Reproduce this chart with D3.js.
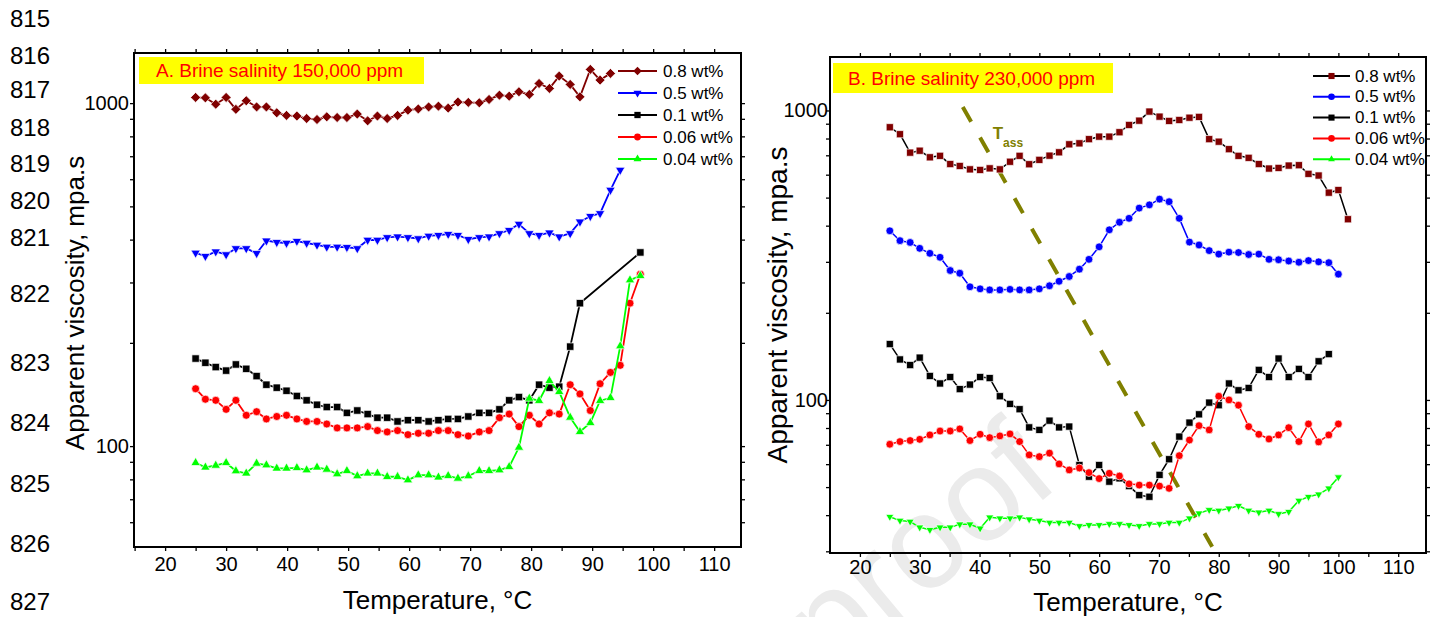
<!DOCTYPE html>
<html>
<head>
<meta charset="utf-8">
<script src="https://cdn.jsdelivr.net/npm/d3@7"></script>
<style>
  body { margin: 0; background: #fff; }
  svg { display: block; }
  text { font-family: "Liberation Sans", Arial, sans-serif; }
</style>
</head>
<body>
<svg id="chart" width="1439" height="617"></svg>
<script>
// ---------------- DATA ----------------
const lineNumbers = ["815","816","817","818","819","820","821","822","823","824","825","826","827"];

const seriesLabels = ["0.8 wt%", "0.5 wt%", "0.1 wt%", "0.06 wt%", "0.04 wt%"];
const titleA = "A. Brine salinity 150,000 ppm";
const titleB = "B. Brine salinity 230,000 ppm";
const xTitle = "Temperature, \u00B0C";
const yTitle = "Apparent viscosity, mpa.s";
const xTickValues = [20, 30, 40, 50, 60, 70, 80, 90, 100, 110];
const xMinorTicks = [15, 25, 35, 45, 55, 65, 75, 85, 95, 105, 115];
const yTickValues = [100, 1000];
const yMinorTicks = [30, 40, 50, 60, 70, 80, 90, 200, 300, 400, 500, 600, 700, 800, 900];

// Panel A: 150,000 ppm
const tempsA = [25.0, 26.6, 28.3, 30.0, 31.6, 33.3, 35.0, 36.6, 38.3, 39.9,
                41.6, 43.2, 44.9, 46.5, 48.2, 49.8, 51.5, 53.2, 54.8, 56.4,
                58.1, 59.8, 61.5, 63.2, 64.8, 66.4, 68.0, 69.7, 71.5, 73.1,
                74.8, 76.4, 78.0, 79.7, 81.3, 83.0, 84.6, 86.4, 88.0, 89.7,
                91.3, 93.0, 94.6, 96.2, 97.9];
const viscA08 = [1039, 1036, 993, 1039, 959, 1016, 975, 975, 937, 921,
                 917, 902, 896, 912, 908, 908, 929, 888, 917, 902,
                 921, 954, 962, 975, 980, 967, 1007, 1005, 1002, 1025,
                 1055, 1048, 1079, 1060, 1141, 1104, 1199, 1134, 1043, 1254,
                 1167, 1221];
const viscA05 = [366, 358, 369, 362, 377, 377, 365, 397, 393, 391,
                 396, 391, 386, 381, 381, 380, 377, 399, 399, 406,
                 408, 406, 403, 410, 412, 415, 412, 401, 406, 408,
                 417, 426, 444, 417, 412, 419, 408, 417, 451, 468,
                 477, 558, 638];
const viscA01 = [180, 175, 170, 166, 173, 168, 160, 151, 148, 145,
                 140, 136, 132, 130, 130, 125, 127, 124, 121, 121,
                 118, 119, 119, 118, 119, 120, 120, 122, 125, 125,
                 128, 136, 139, 136, 151, 148, 149, 195, 261, null,
                 null, null, null, null, 367];
const viscA006 = [147, 137, 136, 128, 136, 123, 126, 120, 122, 123,
                  120, 118, 118, 116, 113, 113, 113, 114, 111, 110,
                  111, 108, 109, 109, 111, 111, 108, 107, 110, 111,
                  121, 124, 114, 123, 116, 125, 124, 151, 142, 127,
                  152, 164, 172, 261, 317];
const viscA004 = [89.4, 86.7, 87.8, 89.4, 84.6, 83.3, 89.0, 88.0, 86.1, 86.1,
                  86.4, 85.1, 86.7, 85.5, 82.9, 84.7, 81.8, 83.3, 83.3, 81.4,
                  81.4, 79.6, 82.3, 82.3, 81.1, 81.9, 80.5, 81.8, 84.7, 84.7,
                  85.1, 87.0, 99.1, 137.7, 135.6, 155.0, 144.0, 121.2, 110.1, 116.9,
                  135.6, 138.3, 195.7, 304.8, 313.7];

// Panel B: 230,000 ppm
const tempsB = [25.0, 26.7, 28.4, 30.0, 31.7, 33.4, 35.1, 36.7, 38.4, 40.1,
                41.7, 43.4, 45.1, 46.7, 48.3, 50.0, 51.7, 53.3, 55.0, 56.7,
                58.3, 60.0, 61.7, 63.4, 65.0, 66.7, 68.4, 70.1, 71.7, 73.4,
                75.1, 76.7, 78.4, 80.0, 81.7, 83.3, 85.0, 86.7, 88.4, 90.0,
                91.7, 93.4, 95.0, 96.7, 98.4, 100.0, 101.6];
const viscB08 = [875, 828, 715, 726, 689, 697, 653, 643, 626, 623,
                 631, 626, 665, 697, 652, 675, 698, 717, 764, 770,
                 796, 812, 812, 841, 891, 922, 991, 952, 920, 927,
                 944, 950, 796, 780, 735, 697, 686, 653, 630, 633,
                 645, 647, 604, 596, 520, 531, 421];
const viscB05 = [384, 355, 350, 334, 321, 311, 280, 274, 246, 242,
                 240, 240, 241, 240, 240, 242, 248, 257, 267, 283,
                 306, 338, 387, 411, 424, 460, 472, 494, 484, 424,
                 351, 343, 328, 319, 324, 323, 318, 319, 306, 305,
                 302, 299, 303, 300, 298, 272];
const viscB01 = [156, 138, 132, 140, 121, 114, 120, 109, 113, 120,
                 119, 103, 96.9, 92.9, 80.4, 78.8, 84.8, 80.4, 80.9, 59.6,
                 54.3, 59.6, 52.2, 53.6, 50.4, 46.9, 46.3, 55.1, 62.4, 74.7,
                 83.5, 89.2, 97.9, 95.9, 114, 108, 110, 127, 120, 139,
                 120, 128, 120, 136, 144];
const viscB006 = [70.3, 71.8, 72.4, 73.1, 75.7, 78.1, 78.1, 79.4, 72.4, 76.1,
                  74.1, 75.1, 76.3, 71.8, 64.6, 63.7, 65.5, 60.1, 57.3, 58.2,
                  56.1, 53.5, 55.8, 54.6, 51.3, 50.8, 50.8, 50.4, 49.5, 64.2,
                  72.7, 81.5, 78.8, 103, 100, 95.9, 80.9, 76.1, 73.3, 75.7,
                  80.2, 71.8, 82.6, 71.6, 75.7, 82.6];
const viscB004 = [39.5, 38.3, 38.0, 36.3, 35.6, 36.3, 36.3, 37.2, 37.2, 36.0,
                  39.3, 39.0, 39.0, 39.3, 38.7, 38.3, 37.7, 37.7, 37.7, 36.7,
                  37.0, 37.0, 37.3, 37.3, 37.0, 36.7, 37.3, 37.3, 37.7, 37.7,
                  39.0, 40.6, 41.7, 41.5, 42.2, 43.1, 41.5, 40.9, 41.5, 40.4,
                  41.1, 44.9, 46.3, 47.2, 49.5, 54.1];

// T_ass guide line (temperature, viscosity) end points and label anchor
const tassLine = [[37.2, 1028], [78.9, 31.1]];
const tassLabel = {t: 42.2, v: 800, main: "T", sub: "ass"};
const watermark = "Journal Pre-proof";

// ---------------- LAYOUT / STYLE ----------------
const svg = d3.select("#chart");
const FONT = '"Liberation Sans", Arial, sans-serif';

// watermark behind everything (partly off the page, as in the reference)
svg.append("text")
  .attr("transform", "translate(1062,484) rotate(-40)")
  .attr("text-anchor", "end")
  .attr("font-size", 132)
  .attr("fill", "#ebebeb")
  .text(watermark);

// manuscript line numbers
const lineNumberY = [18, 55, 89, 127, 163, 200, 237, 293, 362, 422, 483, 543, 601];
svg.append("g").selectAll("text").data(lineNumbers).join("text")
  .attr("x", 10).attr("y", (d, i) => lineNumberY[i])
  .attr("dominant-baseline", "central")
  .attr("font-family", '"Open Sans", sans-serif')
  .attr("font-size", 24).attr("fill", "#000")
  .text(d => d);

function markerPath(type, s) {
  switch (type) {
    case "square": return `M${-s},${-s}H${s}V${s}H${-s}Z`;
    case "diamond": return `M0,${-s}L${s},0L0,${s}L${-s},0Z`;
    case "circle": return `M${s},0A${s},${s} 0 1,1 ${-s},0A${s},${s} 0 1,1 ${s},0Z`;
    case "triUp": return `M0,${-s * 1.155}L${s},${s * 0.577}L${-s},${s * 0.577}Z`;
    case "triDown": return `M0,${s * 1.155}L${s},${-s * 0.577}L${-s},${-s * 0.577}Z`;
  }
}

const panels = [
  {
    frame: {x0: 134, y0: 53, x1: 741, y1: 547},
    xDomain: [14.9, 114.4], yDomain: [50.8, 1400],
    temps: tempsA,
    series: [
      {vals: viscA08, line: "#800000", fill: "#800000", marker: "diamond", ms: 5.0, legMarker: "diamond"},
      {vals: viscA05, line: "#0000ff", fill: "#0000ff", marker: "triDown", ms: 4.7, legMarker: "triDown"},
      {vals: viscA01, line: "#000000", fill: "#000000", marker: "square", ms: 3.7, legMarker: "square"},
      {vals: viscA006, line: "#ff0000", fill: "#ff0000", marker: "circle", ms: 4.0, legMarker: "circle"},
      {vals: viscA004, line: "#00ff00", fill: "#00ff00", marker: "triUp", ms: 4.7, legMarker: "triUp"}
    ],
    lineWidth: 1.8,
    title: titleA, titleBox: {x: 139, y: 57, w: 285, h: 27}, titleX: 156, titleSize: 19,
    legend: {x1: 618, x2: 657, tx: 663, y0: 71, dy: 22, size: 17},
    tickFont: 20, xLabelPad: 6, yLabelPad: 1,
    xTitle: {x: 437.5, y: 609, size: 26},
    yTitle: {x: 84, y: 303, size: 26}
  },
  {
    frame: {x0: 830, y0: 57, x1: 1426, y1: 553},
    xDomain: [15, 114.65], yDomain: [29.6, 1530],
    temps: tempsB,
    series: [
      {vals: viscB08, line: "#000000", fill: "#800000", marker: "square", ms: 3.6, legMarker: "square"},
      {vals: viscB05, line: "#0000ff", fill: "#0000ff", marker: "circle", ms: 3.9, legMarker: "circle"},
      {vals: viscB01, line: "#000000", fill: "#000000", marker: "square", ms: 3.6, legMarker: "square"},
      {vals: viscB006, line: "#ff0000", fill: "#ff0000", marker: "circle", ms: 3.9, legMarker: "circle"},
      {vals: viscB004, line: "#00ff00", fill: "#00ff00", marker: "triDown", ms: 4.0, legMarker: "triUp"}
    ],
    lineWidth: 1.5,
    title: titleB, titleBox: {x: 833, y: 63, w: 280, h: 30}, titleX: 848, titleSize: 19,
    legend: {x1: 1313, x2: 1350, tx: 1355, y0: 76, dy: 20.8, size: 17},
    tickFont: 20, xLabelPad: 3, yLabelPad: -2,
    xTitle: {x: 1128, y: 611, size: 26},
    yTitle: {x: 787, y: 305, size: 28},
    tass: true
  }
];

panels.forEach(p => {
  const f = p.frame;
  const x = d3.scaleLinear().domain(p.xDomain).range([f.x0, f.x1]);
  const y = d3.scaleLog().domain(p.yDomain).range([f.y1, f.y0]);
  const g = svg.append("g");

  // axes
  const tick = 4;
  const styleAxis = sel => {
    sel.select(".domain").remove();
    sel.selectAll("line").attr("stroke", "#000").attr("stroke-width", 1.3);
    sel.selectAll("text").attr("font-family", FONT).attr("fill", "#000");
  };
  g.append("g").attr("transform", `translate(0,${f.y1})`)
    .call(d3.axisBottom(x).tickValues(xTickValues).tickSize(tick).tickPadding(p.xLabelPad)
      .tickFormat(d3.format("d")))
    .attr("font-size", p.tickFont).call(styleAxis);
  g.append("g").attr("transform", `translate(0,${f.y1})`)
    .call(d3.axisBottom(x).tickValues(xMinorTicks.filter(v => v > p.xDomain[0] && v < p.xDomain[1])).tickSize(tick).tickFormat(""))
    .call(styleAxis);
  g.append("g").attr("transform", `translate(0,${f.y0})`)
    .call(d3.axisTop(x).tickValues(xTickValues.concat(xMinorTicks).filter(v => v > p.xDomain[0] && v < p.xDomain[1])).tickSize(tick).tickFormat(""))
    .call(styleAxis);
  const yMinor = yMinorTicks.filter(v => v > p.yDomain[0] && v < p.yDomain[1]);
  g.append("g").attr("transform", `translate(${f.x0},0)`)
    .call(d3.axisLeft(y).tickValues(yTickValues).tickSize(tick).tickPadding(p.yLabelPad)
      .tickFormat(d3.format("d")))
    .attr("font-size", p.tickFont).call(styleAxis);
  g.append("g").attr("transform", `translate(${f.x0},0)`)
    .call(d3.axisLeft(y).tickValues(yMinor).tickSize(tick).tickFormat(""))
    .call(styleAxis);
  g.append("g").attr("transform", `translate(${f.x1},0)`)
    .call(d3.axisRight(y).tickValues(yTickValues.concat(yMinor)).tickSize(tick).tickFormat(""))
    .call(styleAxis);

  // frame
  g.append("rect").attr("x", f.x0).attr("y", f.y0)
    .attr("width", f.x1 - f.x0).attr("height", f.y1 - f.y0)
    .attr("fill", "none").attr("stroke", "#000").attr("stroke-width", 2);

  // title box
  g.append("rect").attr("x", p.titleBox.x).attr("y", p.titleBox.y)
    .attr("width", p.titleBox.w).attr("height", p.titleBox.h).attr("fill", "#ffff00");
  g.append("text").attr("x", p.titleX).attr("y", p.titleBox.y + p.titleBox.h / 2)
    .attr("dominant-baseline", "central").attr("font-size", p.titleSize)
    .attr("fill", "#ff0000").text(p.title);

  // T_ass guide
  if (p.tass) {
    g.append("path")
      .attr("d", d3.line().x(d => x(d[0])).y(d => y(d[1]))(tassLine))
      .attr("fill", "none").attr("stroke", "#808000").attr("stroke-width", 4)
      .attr("stroke-dasharray", "17,18");
    const lt = g.append("text").attr("x", x(tassLabel.t)).attr("y", y(tassLabel.v))
      .attr("fill", "#808000").attr("font-weight", "bold").attr("font-size", 17);
    lt.append("tspan").text(tassLabel.main);
    lt.append("tspan").attr("font-size", 12).attr("dy", 8).text(tassLabel.sub);
  }

  // series
  const line = d3.line().x(d => x(d[0])).y(d => y(d[1]));
  p.series.forEach(s => {
    const pts = s.vals.map((v, i) => [p.temps[i], v]).filter(d => d[1] != null);
    g.append("path").attr("d", line(pts)).attr("fill", "none")
      .attr("stroke", s.line).attr("stroke-width", p.lineWidth).attr("stroke-linejoin", "round");
    g.append("g").selectAll("path").data(pts).join("path")
      .attr("transform", d => `translate(${x(d[0])},${y(d[1])})`)
      .attr("d", markerPath(s.marker, s.ms))
      .attr("fill", s.fill).attr("stroke", "#ffffff").attr("stroke-width", 0.7);
  });

  // legend
  const L = p.legend;
  p.series.forEach((s, i) => {
    const ly = L.y0 + i * L.dy;
    g.append("line").attr("x1", L.x1).attr("x2", L.x2).attr("y1", ly).attr("y2", ly)
      .attr("stroke", s.line).attr("stroke-width", 2);
    g.append("path").attr("transform", `translate(${(L.x1 + L.x2) / 2},${ly})`)
      .attr("d", markerPath(s.legMarker, s.ms * 0.85)).attr("fill", s.fill);
    g.append("text").attr("x", L.tx).attr("y", ly).attr("dominant-baseline", "central")
      .attr("font-size", L.size).attr("fill", "#000").text(seriesLabels[i]);
  });

  // axis titles
  g.append("text").attr("x", p.xTitle.x).attr("y", p.xTitle.y).attr("text-anchor", "middle")
    .attr("font-size", p.xTitle.size).attr("fill", "#000").text(xTitle);
  g.append("text").attr("transform", `translate(${p.yTitle.x},${p.yTitle.y}) rotate(-90)`)
    .attr("text-anchor", "middle").attr("font-size", p.yTitle.size).attr("fill", "#000").text(yTitle);
});
</script>
</body>
</html>
